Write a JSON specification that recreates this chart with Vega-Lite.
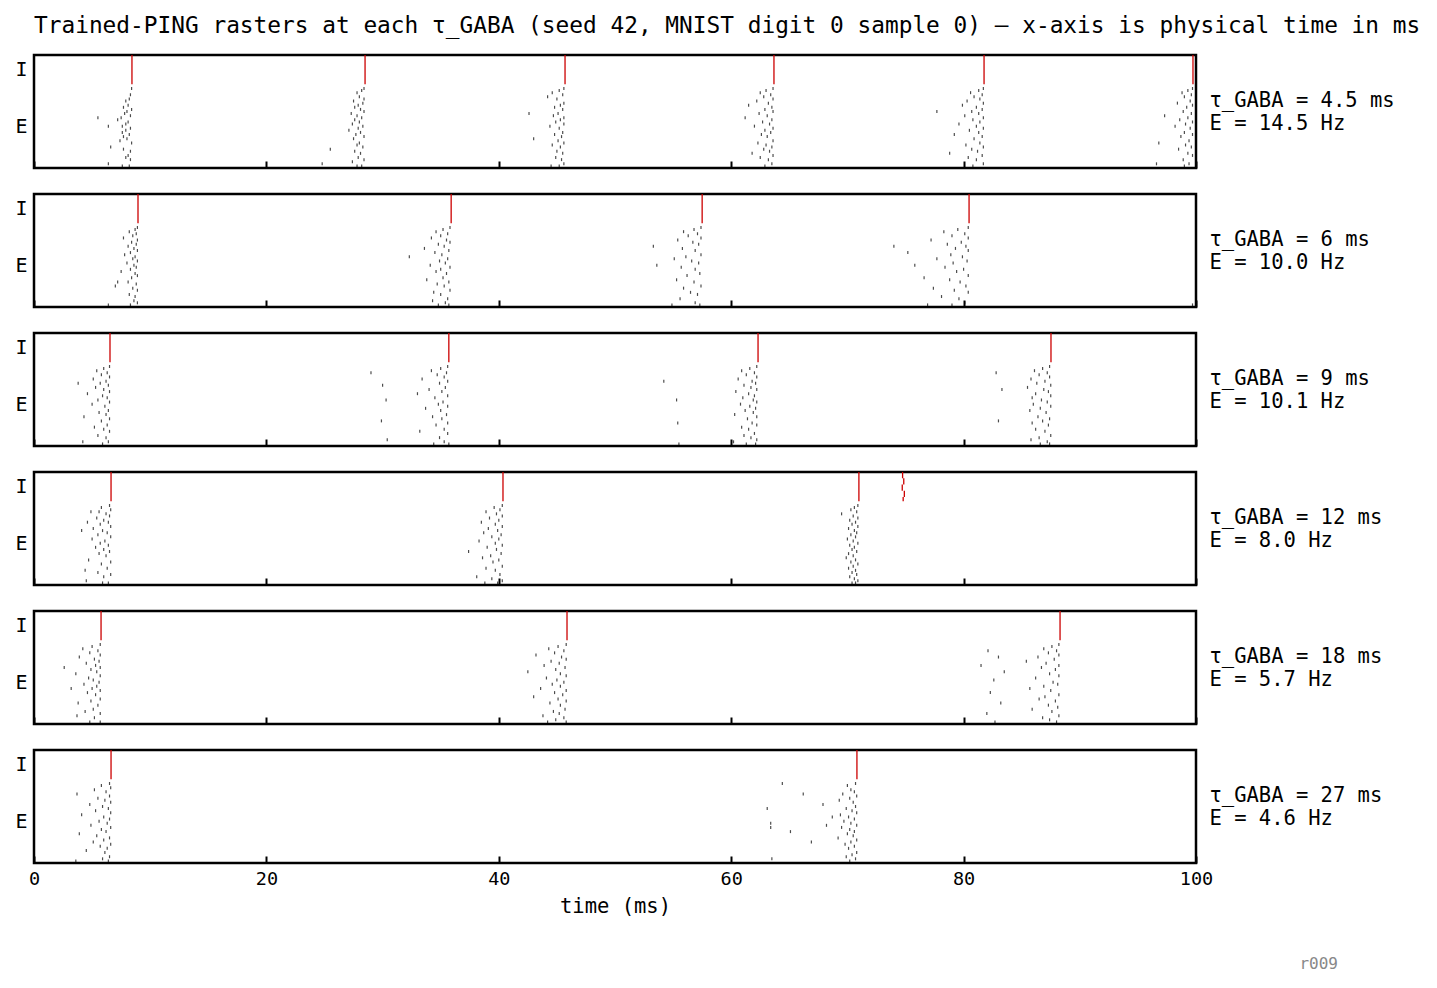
{
"$schema": "https://vega.github.io/schema/vega-lite/v6.json",
"padding": {"left": 13, "top": 15, "right": 5, "bottom": 5},
"config": {
  "font": "DejaVu Sans Mono",
  "view": {"stroke": "black", "strokeWidth": 2.5},
  "axis": {"grid": false, "domain": false, "labelColor": "black", "titleColor": "black", "tickColor": "black", "labelFont": "DejaVu Sans Mono", "titleFont": "DejaVu Sans Mono", "titleFontWeight": "normal"},
  "title": {"font": "DejaVu Sans Mono", "fontWeight": "normal", "color": "black"}
},
"title": {"text": "Trained-PING rasters at each τ_GABA (seed 42, MNIST digit 0 sample 0) — x-axis is physical time in ms", "anchor": "start", "frame": "group", "fontSize": 22.8, "offset": 15},
"spacing": 21,
"datasets": {"spikes": [
{"p":1,"t":8.43,"n":40,"n2":54},{"p":1,"t":28.49,"n":40,"n2":54},{"p":1,"t":45.7,"n":40,"n2":54},{"p":1,"t":63.68,"n":40,"n2":54},{"p":1,"t":81.76,"n":40,"n2":54},{"p":1,"t":99.74,"n":40,"n2":54},
{"p":2,"t":8.95,"n":40,"n2":54},{"p":2,"t":35.9,"n":40,"n2":54},{"p":2,"t":57.5,"n":40,"n2":54},{"p":2,"t":80.47,"n":40,"n2":54},
{"p":3,"t":6.54,"n":40,"n2":54},{"p":3,"t":35.7,"n":40,"n2":54},{"p":3,"t":62.31,"n":40,"n2":54},{"p":3,"t":87.52,"n":40,"n2":54},
{"p":4,"t":6.63,"n":40,"n2":54},{"p":4,"t":40.36,"n":40,"n2":54},{"p":4,"t":70.99,"n":40,"n2":54},
{"p":4,"t":74.75,"n":51,"n2":54},{"p":4,"t":74.85,"n":48,"n2":51},{"p":4,"t":74.72,"n":45,"n2":48},{"p":4,"t":74.9,"n":42,"n2":45},{"p":4,"t":74.8,"n":40,"n2":42},
{"p":5,"t":5.77,"n":40,"n2":54},{"p":5,"t":45.87,"n":40,"n2":54},{"p":5,"t":88.3,"n":40,"n2":54},
{"p":6,"t":6.63,"n":40,"n2":54},{"p":6,"t":70.82,"n":40,"n2":54},

{"p":1,"t":8.4,"n":38},{"p":1,"t":8.3,"n":35},{"p":1,"t":8.2,"n":33},{"p":1,"t":7.9,"n":32},{"p":1,"t":8.1,"n":30},{"p":1,"t":7.7,"n":29},{"p":1,"t":8.4,"n":28},{"p":1,"t":8.0,"n":27},{"p":1,"t":7.8,"n":26},{"p":1,"t":8.3,"n":25},{"p":1,"t":5.5,"n":24},{"p":1,"t":7.5,"n":24},{"p":1,"t":7.2,"n":23},{"p":1,"t":8.1,"n":22},{"p":1,"t":7.9,"n":21},{"p":1,"t":7.6,"n":20},{"p":1,"t":6.4,"n":20},{"p":1,"t":8.3,"n":19},{"p":1,"t":7.9,"n":18},{"p":1,"t":7.6,"n":17},{"p":1,"t":8.2,"n":16},{"p":1,"t":7.7,"n":15},{"p":1,"t":8.0,"n":14},{"p":1,"t":7.4,"n":13},{"p":1,"t":8.4,"n":12},{"p":1,"t":6.6,"n":10},{"p":1,"t":7.7,"n":9},{"p":1,"t":8.3,"n":8},{"p":1,"t":8.1,"n":6},{"p":1,"t":7.9,"n":5},{"p":1,"t":8.3,"n":4},{"p":1,"t":6.4,"n":2},{"p":1,"t":7.6,"n":1},{"p":1,"t":8.2,"n":1},
{"p":1,"t":28.4,"n":38},{"p":1,"t":28.2,"n":37},{"p":1,"t":27.8,"n":36},{"p":1,"t":28.0,"n":34},{"p":1,"t":28.4,"n":33},{"p":1,"t":27.5,"n":32},{"p":1,"t":28.3,"n":31},{"p":1,"t":27.9,"n":30},{"p":1,"t":27.6,"n":29},{"p":1,"t":28.1,"n":28},{"p":1,"t":28.4,"n":27},{"p":1,"t":27.3,"n":26},{"p":1,"t":27.8,"n":25},{"p":1,"t":28.2,"n":24},{"p":1,"t":27.6,"n":23},{"p":1,"t":28.0,"n":22},{"p":1,"t":27.4,"n":21},{"p":1,"t":28.3,"n":20},{"p":1,"t":27.9,"n":19},{"p":1,"t":27.1,"n":18},{"p":1,"t":28.1,"n":17},{"p":1,"t":27.7,"n":16},{"p":1,"t":28.4,"n":15},{"p":1,"t":27.5,"n":14},{"p":1,"t":28.0,"n":12},{"p":1,"t":27.8,"n":11},{"p":1,"t":28.3,"n":10},{"p":1,"t":25.5,"n":9},{"p":1,"t":27.6,"n":8},{"p":1,"t":28.1,"n":7},{"p":1,"t":27.9,"n":5},{"p":1,"t":28.4,"n":4},{"p":1,"t":24.8,"n":2},{"p":1,"t":27.4,"n":3},{"p":1,"t":28.2,"n":1},{"p":1,"t":27.8,"n":1},
{"p":1,"t":45.6,"n":38},{"p":1,"t":45.2,"n":37},{"p":1,"t":44.6,"n":36},{"p":1,"t":45.5,"n":35},{"p":1,"t":44.2,"n":34},{"p":1,"t":45.0,"n":33},{"p":1,"t":45.6,"n":31},{"p":1,"t":45.3,"n":30},{"p":1,"t":44.8,"n":29},{"p":1,"t":45.5,"n":28},{"p":1,"t":42.6,"n":26},{"p":1,"t":45.1,"n":26},{"p":1,"t":44.7,"n":25},{"p":1,"t":45.6,"n":24},{"p":1,"t":45.3,"n":23},{"p":1,"t":44.9,"n":22},{"p":1,"t":45.6,"n":21},{"p":1,"t":44.4,"n":20},{"p":1,"t":45.2,"n":19},{"p":1,"t":45.5,"n":17},{"p":1,"t":44.8,"n":16},{"p":1,"t":45.4,"n":15},{"p":1,"t":43.0,"n":14},{"p":1,"t":45.1,"n":13},{"p":1,"t":45.6,"n":12},{"p":1,"t":44.6,"n":11},{"p":1,"t":45.3,"n":10},{"p":1,"t":45.0,"n":8},{"p":1,"t":45.5,"n":7},{"p":1,"t":44.9,"n":5},{"p":1,"t":45.4,"n":4},{"p":1,"t":45.6,"n":2},{"p":1,"t":44.5,"n":1},{"p":1,"t":45.2,"n":1},
{"p":1,"t":63.6,"n":38},{"p":1,"t":63.0,"n":37},{"p":1,"t":62.5,"n":36},{"p":1,"t":63.4,"n":35},{"p":1,"t":62.8,"n":34},{"p":1,"t":63.6,"n":33},{"p":1,"t":62.2,"n":32},{"p":1,"t":63.2,"n":31},{"p":1,"t":61.5,"n":30},{"p":1,"t":63.5,"n":29},{"p":1,"t":62.9,"n":28},{"p":1,"t":63.6,"n":27},{"p":1,"t":62.4,"n":26},{"p":1,"t":63.1,"n":25},{"p":1,"t":61.2,"n":24},{"p":1,"t":63.5,"n":23},{"p":1,"t":62.7,"n":22},{"p":1,"t":63.3,"n":21},{"p":1,"t":62.0,"n":20},{"p":1,"t":63.6,"n":19},{"p":1,"t":62.9,"n":18},{"p":1,"t":63.4,"n":17},{"p":1,"t":62.6,"n":16},{"p":1,"t":63.1,"n":15},{"p":1,"t":63.6,"n":13},{"p":1,"t":62.3,"n":12},{"p":1,"t":63.0,"n":11},{"p":1,"t":63.5,"n":10},{"p":1,"t":62.8,"n":9},{"p":1,"t":63.3,"n":8},{"p":1,"t":61.8,"n":7},{"p":1,"t":63.6,"n":6},{"p":1,"t":62.5,"n":5},{"p":1,"t":63.2,"n":4},{"p":1,"t":63.5,"n":2},{"p":1,"t":62.9,"n":1},
{"p":1,"t":81.7,"n":38},{"p":1,"t":81.3,"n":37},{"p":1,"t":80.6,"n":36},{"p":1,"t":81.6,"n":35},{"p":1,"t":80.9,"n":34},{"p":1,"t":81.4,"n":33},{"p":1,"t":80.3,"n":32},{"p":1,"t":81.7,"n":31},{"p":1,"t":79.9,"n":30},{"p":1,"t":81.1,"n":29},{"p":1,"t":81.6,"n":28},{"p":1,"t":77.7,"n":27},{"p":1,"t":80.7,"n":27},{"p":1,"t":81.3,"n":26},{"p":1,"t":80.1,"n":25},{"p":1,"t":81.7,"n":24},{"p":1,"t":80.8,"n":23},{"p":1,"t":81.4,"n":22},{"p":1,"t":79.6,"n":21},{"p":1,"t":81.1,"n":20},{"p":1,"t":81.7,"n":19},{"p":1,"t":80.5,"n":18},{"p":1,"t":81.3,"n":17},{"p":1,"t":79.2,"n":16},{"p":1,"t":81.6,"n":15},{"p":1,"t":80.9,"n":14},{"p":1,"t":81.4,"n":12},{"p":1,"t":80.2,"n":11},{"p":1,"t":81.7,"n":10},{"p":1,"t":80.7,"n":9},{"p":1,"t":81.2,"n":8},{"p":1,"t":78.8,"n":7},{"p":1,"t":81.6,"n":6},{"p":1,"t":80.4,"n":5},{"p":1,"t":81.1,"n":4},{"p":1,"t":81.7,"n":2},{"p":1,"t":80.8,"n":1},
{"p":1,"t":99.7,"n":38},{"p":1,"t":99.3,"n":37},{"p":1,"t":98.8,"n":36},{"p":1,"t":99.6,"n":35},{"p":1,"t":99.0,"n":34},{"p":1,"t":99.5,"n":32},{"p":1,"t":98.4,"n":31},{"p":1,"t":99.7,"n":30},{"p":1,"t":99.2,"n":29},{"p":1,"t":98.9,"n":27},{"p":1,"t":99.6,"n":26},{"p":1,"t":97.3,"n":25},{"p":1,"t":99.3,"n":24},{"p":1,"t":98.6,"n":23},{"p":1,"t":99.7,"n":22},{"p":1,"t":99.1,"n":21},{"p":1,"t":98.2,"n":20},{"p":1,"t":99.5,"n":19},{"p":1,"t":99.0,"n":17},{"p":1,"t":99.7,"n":16},{"p":1,"t":98.7,"n":15},{"p":1,"t":99.4,"n":13},{"p":1,"t":96.8,"n":12},{"p":1,"t":99.1,"n":11},{"p":1,"t":99.6,"n":10},{"p":1,"t":98.5,"n":9},{"p":1,"t":99.3,"n":7},{"p":1,"t":99.7,"n":6},{"p":1,"t":98.9,"n":4},{"p":1,"t":96.6,"n":2},{"p":1,"t":99.4,"n":2},{"p":1,"t":99.0,"n":1},

{"p":2,"t":8.9,"n":38},{"p":2,"t":8.7,"n":37},{"p":2,"t":8.2,"n":36},{"p":2,"t":8.8,"n":35},{"p":2,"t":8.5,"n":34},{"p":2,"t":7.7,"n":33},{"p":2,"t":8.9,"n":32},{"p":2,"t":8.4,"n":31},{"p":2,"t":8.8,"n":30},{"p":2,"t":8.1,"n":29},{"p":2,"t":8.6,"n":28},{"p":2,"t":8.9,"n":27},{"p":2,"t":8.3,"n":26},{"p":2,"t":7.8,"n":25},{"p":2,"t":8.7,"n":24},{"p":2,"t":8.5,"n":23},{"p":2,"t":8.9,"n":22},{"p":2,"t":8.0,"n":21},{"p":2,"t":8.6,"n":20},{"p":2,"t":8.8,"n":19},{"p":2,"t":8.3,"n":18},{"p":2,"t":7.5,"n":17},{"p":2,"t":8.7,"n":16},{"p":2,"t":8.9,"n":15},{"p":2,"t":8.4,"n":14},{"p":2,"t":7.2,"n":12},{"p":2,"t":8.1,"n":12},{"p":2,"t":8.8,"n":11},{"p":2,"t":7.0,"n":10},{"p":2,"t":8.5,"n":9},{"p":2,"t":8.9,"n":8},{"p":2,"t":8.2,"n":6},{"p":2,"t":8.7,"n":5},{"p":2,"t":8.6,"n":3},{"p":2,"t":6.4,"n":1},{"p":2,"t":8.3,"n":1},{"p":2,"t":8.9,"n":2},
{"p":2,"t":35.8,"n":38},{"p":2,"t":35.2,"n":37},{"p":2,"t":34.6,"n":36},{"p":2,"t":35.6,"n":35},{"p":2,"t":35.0,"n":34},{"p":2,"t":34.2,"n":33},{"p":2,"t":35.5,"n":32},{"p":2,"t":35.8,"n":31},{"p":2,"t":34.8,"n":30},{"p":2,"t":35.3,"n":29},{"p":2,"t":33.6,"n":28},{"p":2,"t":35.7,"n":27},{"p":2,"t":34.5,"n":26},{"p":2,"t":35.1,"n":25},{"p":2,"t":32.3,"n":24},{"p":2,"t":35.6,"n":23},{"p":2,"t":34.9,"n":22},{"p":2,"t":35.4,"n":21},{"p":2,"t":34.1,"n":20},{"p":2,"t":35.8,"n":19},{"p":2,"t":35.0,"n":18},{"p":2,"t":34.6,"n":17},{"p":2,"t":35.5,"n":16},{"p":2,"t":35.2,"n":14},{"p":2,"t":33.8,"n":13},{"p":2,"t":35.7,"n":12},{"p":2,"t":34.7,"n":11},{"p":2,"t":35.3,"n":10},{"p":2,"t":35.8,"n":8},{"p":2,"t":34.4,"n":7},{"p":2,"t":35.0,"n":6},{"p":2,"t":35.6,"n":4},{"p":2,"t":34.3,"n":3},{"p":2,"t":35.4,"n":2},{"p":2,"t":34.8,"n":1},{"p":2,"t":35.7,"n":1},
{"p":2,"t":57.4,"n":38},{"p":2,"t":56.8,"n":37},{"p":2,"t":55.9,"n":36},{"p":2,"t":57.1,"n":35},{"p":2,"t":56.3,"n":34},{"p":2,"t":57.4,"n":33},{"p":2,"t":55.4,"n":32},{"p":2,"t":56.7,"n":31},{"p":2,"t":57.2,"n":30},{"p":2,"t":53.3,"n":29},{"p":2,"t":55.8,"n":28},{"p":2,"t":56.9,"n":27},{"p":2,"t":57.4,"n":25},{"p":2,"t":56.1,"n":24},{"p":2,"t":55.1,"n":23},{"p":2,"t":56.6,"n":22},{"p":2,"t":57.2,"n":21},{"p":2,"t":53.6,"n":20},{"p":2,"t":55.7,"n":19},{"p":2,"t":56.9,"n":18},{"p":2,"t":57.3,"n":16},{"p":2,"t":56.2,"n":15},{"p":2,"t":55.3,"n":13},{"p":2,"t":56.8,"n":12},{"p":2,"t":57.4,"n":10},{"p":2,"t":55.9,"n":9},{"p":2,"t":56.5,"n":7},{"p":2,"t":57.1,"n":6},{"p":2,"t":55.6,"n":4},{"p":2,"t":56.9,"n":2},{"p":2,"t":54.9,"n":1},{"p":2,"t":57.3,"n":1},
{"p":2,"t":80.4,"n":38},{"p":2,"t":79.5,"n":37},{"p":2,"t":78.3,"n":36},{"p":2,"t":80.1,"n":35},{"p":2,"t":79.0,"n":34},{"p":2,"t":80.4,"n":33},{"p":2,"t":77.2,"n":32},{"p":2,"t":79.8,"n":31},{"p":2,"t":78.6,"n":30},{"p":2,"t":80.2,"n":29},{"p":2,"t":74.0,"n":29},{"p":2,"t":79.3,"n":28},{"p":2,"t":80.4,"n":27},{"p":2,"t":75.2,"n":26},{"p":2,"t":78.9,"n":25},{"p":2,"t":79.9,"n":24},{"p":2,"t":77.7,"n":23},{"p":2,"t":80.3,"n":22},{"p":2,"t":79.1,"n":21},{"p":2,"t":75.8,"n":20},{"p":2,"t":78.4,"n":19},{"p":2,"t":80.0,"n":18},{"p":2,"t":79.4,"n":17},{"p":2,"t":80.4,"n":15},{"p":2,"t":76.6,"n":14},{"p":2,"t":78.8,"n":13},{"p":2,"t":79.7,"n":12},{"p":2,"t":80.2,"n":10},{"p":2,"t":77.4,"n":9},{"p":2,"t":79.2,"n":8},{"p":2,"t":80.4,"n":7},{"p":2,"t":78.1,"n":5},{"p":2,"t":79.6,"n":4},{"p":2,"t":80.1,"n":2},{"p":2,"t":76.9,"n":1},{"p":2,"t":79.0,"n":1},{"p":2,"t":99.7,"n":1},

{"p":3,"t":6.5,"n":38},{"p":3,"t":6.0,"n":37},{"p":3,"t":5.4,"n":36},{"p":3,"t":6.3,"n":35},{"p":3,"t":5.8,"n":34},{"p":3,"t":6.5,"n":33},{"p":3,"t":5.1,"n":32},{"p":3,"t":6.2,"n":31},{"p":3,"t":3.8,"n":30},{"p":3,"t":5.7,"n":30},{"p":3,"t":6.4,"n":29},{"p":3,"t":5.3,"n":28},{"p":3,"t":6.0,"n":27},{"p":3,"t":6.5,"n":26},{"p":3,"t":4.6,"n":25},{"p":3,"t":5.9,"n":24},{"p":3,"t":6.3,"n":23},{"p":3,"t":5.5,"n":22},{"p":3,"t":6.5,"n":21},{"p":3,"t":5.0,"n":20},{"p":3,"t":6.1,"n":19},{"p":3,"t":6.4,"n":17},{"p":3,"t":5.6,"n":16},{"p":3,"t":6.2,"n":15},{"p":3,"t":4.3,"n":14},{"p":3,"t":6.5,"n":13},{"p":3,"t":5.8,"n":12},{"p":3,"t":6.3,"n":10},{"p":3,"t":5.2,"n":9},{"p":3,"t":6.0,"n":8},{"p":3,"t":6.5,"n":7},{"p":3,"t":5.5,"n":5},{"p":3,"t":6.2,"n":4},{"p":3,"t":4.2,"n":2},{"p":3,"t":6.4,"n":2},{"p":3,"t":5.9,"n":1},
{"p":3,"t":35.6,"n":38},{"p":3,"t":35.0,"n":37},{"p":3,"t":34.2,"n":36},{"p":3,"t":35.5,"n":35},{"p":3,"t":29.0,"n":35},{"p":3,"t":34.7,"n":34},{"p":3,"t":35.3,"n":33},{"p":3,"t":33.4,"n":32},{"p":3,"t":35.6,"n":31},{"p":3,"t":34.9,"n":30},{"p":3,"t":30.0,"n":29},{"p":3,"t":35.4,"n":28},{"p":3,"t":34.0,"n":27},{"p":3,"t":35.1,"n":26},{"p":3,"t":33.0,"n":25},{"p":3,"t":35.6,"n":24},{"p":3,"t":34.5,"n":23},{"p":3,"t":30.3,"n":22},{"p":3,"t":35.2,"n":21},{"p":3,"t":34.8,"n":20},{"p":3,"t":35.6,"n":19},{"p":3,"t":33.7,"n":18},{"p":3,"t":35.0,"n":17},{"p":3,"t":35.5,"n":15},{"p":3,"t":34.3,"n":14},{"p":3,"t":35.1,"n":13},{"p":3,"t":29.9,"n":12},{"p":3,"t":35.6,"n":11},{"p":3,"t":34.6,"n":10},{"p":3,"t":35.3,"n":8},{"p":3,"t":33.2,"n":7},{"p":3,"t":35.6,"n":6},{"p":3,"t":34.9,"n":4},{"p":3,"t":30.4,"n":3},{"p":3,"t":35.3,"n":2},{"p":3,"t":34.4,"n":1},{"p":3,"t":35.7,"n":1},
{"p":3,"t":62.2,"n":38},{"p":3,"t":61.6,"n":37},{"p":3,"t":60.9,"n":36},{"p":3,"t":62.0,"n":35},{"p":3,"t":61.3,"n":34},{"p":3,"t":62.2,"n":33},{"p":3,"t":60.6,"n":32},{"p":3,"t":61.8,"n":31},{"p":3,"t":54.2,"n":31},{"p":3,"t":62.1,"n":30},{"p":3,"t":61.1,"n":29},{"p":3,"t":61.7,"n":28},{"p":3,"t":62.2,"n":27},{"p":3,"t":60.4,"n":26},{"p":3,"t":61.5,"n":25},{"p":3,"t":62.0,"n":24},{"p":3,"t":61.0,"n":23},{"p":3,"t":61.9,"n":22},{"p":3,"t":55.3,"n":22},{"p":3,"t":62.2,"n":21},{"p":3,"t":60.8,"n":20},{"p":3,"t":61.6,"n":19},{"p":3,"t":62.1,"n":18},{"p":3,"t":61.2,"n":17},{"p":3,"t":61.9,"n":16},{"p":3,"t":60.3,"n":15},{"p":3,"t":62.2,"n":14},{"p":3,"t":61.4,"n":13},{"p":3,"t":55.4,"n":11},{"p":3,"t":61.8,"n":11},{"p":3,"t":62.2,"n":10},{"p":3,"t":60.9,"n":9},{"p":3,"t":61.5,"n":8},{"p":3,"t":62.0,"n":6},{"p":3,"t":61.1,"n":5},{"p":3,"t":61.7,"n":4},{"p":3,"t":62.2,"n":3},{"p":3,"t":60.2,"n":2},{"p":3,"t":61.3,"n":1},{"p":3,"t":55.5,"n":1},{"p":3,"t":62.1,"n":1},
{"p":3,"t":87.4,"n":38},{"p":3,"t":86.8,"n":37},{"p":3,"t":86.1,"n":36},{"p":3,"t":87.2,"n":35},{"p":3,"t":82.8,"n":35},{"p":3,"t":86.5,"n":34},{"p":3,"t":87.4,"n":33},{"p":3,"t":85.8,"n":32},{"p":3,"t":87.0,"n":31},{"p":3,"t":86.3,"n":30},{"p":3,"t":87.5,"n":29},{"p":3,"t":85.5,"n":28},{"p":3,"t":86.9,"n":27},{"p":3,"t":83.3,"n":27},{"p":3,"t":87.3,"n":26},{"p":3,"t":86.2,"n":25},{"p":3,"t":87.5,"n":24},{"p":3,"t":85.9,"n":23},{"p":3,"t":86.7,"n":22},{"p":3,"t":87.2,"n":21},{"p":3,"t":86.0,"n":20},{"p":3,"t":87.5,"n":19},{"p":3,"t":86.6,"n":18},{"p":3,"t":85.7,"n":17},{"p":3,"t":87.1,"n":16},{"p":3,"t":86.4,"n":14},{"p":3,"t":87.4,"n":13},{"p":3,"t":83.0,"n":12},{"p":3,"t":86.8,"n":12},{"p":3,"t":85.9,"n":11},{"p":3,"t":87.3,"n":10},{"p":3,"t":86.2,"n":8},{"p":3,"t":87.0,"n":7},{"p":3,"t":87.5,"n":5},{"p":3,"t":86.5,"n":4},{"p":3,"t":85.8,"n":3},{"p":3,"t":87.2,"n":2},{"p":3,"t":86.6,"n":1},{"p":3,"t":87.4,"n":1},

{"p":4,"t":6.5,"n":38},{"p":4,"t":5.8,"n":37},{"p":4,"t":6.6,"n":36},{"p":4,"t":4.9,"n":35},{"p":4,"t":5.6,"n":35},{"p":4,"t":6.2,"n":34},{"p":4,"t":6.5,"n":33},{"p":4,"t":5.4,"n":32},{"p":4,"t":6.0,"n":31},{"p":4,"t":4.6,"n":30},{"p":4,"t":6.4,"n":30},{"p":4,"t":5.7,"n":29},{"p":4,"t":6.6,"n":28},{"p":4,"t":5.1,"n":27},{"p":4,"t":4.1,"n":26},{"p":4,"t":5.9,"n":26},{"p":4,"t":6.3,"n":25},{"p":4,"t":5.5,"n":24},{"p":4,"t":6.6,"n":23},{"p":4,"t":5.0,"n":22},{"p":4,"t":6.1,"n":21},{"p":4,"t":5.7,"n":20},{"p":4,"t":6.4,"n":19},{"p":4,"t":5.3,"n":18},{"p":4,"t":6.0,"n":17},{"p":4,"t":6.5,"n":16},{"p":4,"t":5.6,"n":15},{"p":4,"t":6.2,"n":14},{"p":4,"t":4.7,"n":12},{"p":4,"t":6.6,"n":11},{"p":4,"t":5.8,"n":10},{"p":4,"t":6.3,"n":8},{"p":4,"t":4.4,"n":7},{"p":4,"t":5.5,"n":6},{"p":4,"t":6.6,"n":5},{"p":4,"t":6.0,"n":4},{"p":4,"t":4.5,"n":2},{"p":4,"t":5.9,"n":1},{"p":4,"t":6.4,"n":1},
{"p":4,"t":40.3,"n":38},{"p":4,"t":39.6,"n":37},{"p":4,"t":40.1,"n":36},{"p":4,"t":38.9,"n":35},{"p":4,"t":39.8,"n":34},{"p":4,"t":40.3,"n":33},{"p":4,"t":39.2,"n":32},{"p":4,"t":40.0,"n":31},{"p":4,"t":38.5,"n":30},{"p":4,"t":39.7,"n":29},{"p":4,"t":40.3,"n":28},{"p":4,"t":39.1,"n":27},{"p":4,"t":39.9,"n":26},{"p":4,"t":38.7,"n":25},{"p":4,"t":40.2,"n":24},{"p":4,"t":39.4,"n":23},{"p":4,"t":40.0,"n":22},{"p":4,"t":38.3,"n":21},{"p":4,"t":39.7,"n":20},{"p":4,"t":40.3,"n":19},{"p":4,"t":39.0,"n":18},{"p":4,"t":39.8,"n":17},{"p":4,"t":37.4,"n":16},{"p":4,"t":40.2,"n":15},{"p":4,"t":39.3,"n":14},{"p":4,"t":38.6,"n":13},{"p":4,"t":40.0,"n":12},{"p":4,"t":39.5,"n":11},{"p":4,"t":40.3,"n":9},{"p":4,"t":38.9,"n":8},{"p":4,"t":39.7,"n":7},{"p":4,"t":40.1,"n":5},{"p":4,"t":38.1,"n":4},{"p":4,"t":39.4,"n":3},{"p":4,"t":40.3,"n":2},{"p":4,"t":38.8,"n":1},{"p":4,"t":39.9,"n":1},
{"p":4,"t":70.9,"n":38},{"p":4,"t":70.6,"n":37},{"p":4,"t":70.3,"n":36},{"p":4,"t":70.8,"n":35},{"p":4,"t":69.5,"n":34},{"p":4,"t":70.5,"n":33},{"p":4,"t":70.9,"n":32},{"p":4,"t":70.2,"n":31},{"p":4,"t":70.7,"n":30},{"p":4,"t":70.4,"n":29},{"p":4,"t":70.9,"n":28},{"p":4,"t":70.1,"n":27},{"p":4,"t":70.6,"n":26},{"p":4,"t":70.8,"n":25},{"p":4,"t":70.3,"n":24},{"p":4,"t":70.7,"n":23},{"p":4,"t":70.0,"n":22},{"p":4,"t":70.5,"n":21},{"p":4,"t":70.9,"n":20},{"p":4,"t":70.2,"n":19},{"p":4,"t":70.6,"n":18},{"p":4,"t":70.4,"n":17},{"p":4,"t":70.8,"n":16},{"p":4,"t":70.1,"n":15},{"p":4,"t":70.5,"n":14},{"p":4,"t":69.9,"n":13},{"p":4,"t":70.7,"n":12},{"p":4,"t":70.3,"n":11},{"p":4,"t":70.9,"n":10},{"p":4,"t":70.5,"n":9},{"p":4,"t":70.1,"n":8},{"p":4,"t":70.7,"n":7},{"p":4,"t":70.4,"n":6},{"p":4,"t":70.8,"n":5},{"p":4,"t":70.2,"n":4},{"p":4,"t":70.6,"n":3},{"p":4,"t":70.9,"n":2},{"p":4,"t":70.4,"n":1},{"p":4,"t":70.7,"n":1},

{"p":5,"t":5.7,"n":38},{"p":5,"t":5.0,"n":37},{"p":5,"t":4.2,"n":36},{"p":5,"t":5.5,"n":35},{"p":5,"t":4.8,"n":34},{"p":5,"t":5.7,"n":33},{"p":5,"t":3.9,"n":32},{"p":5,"t":5.2,"n":31},{"p":5,"t":5.6,"n":30},{"p":5,"t":4.5,"n":29},{"p":5,"t":5.3,"n":28},{"p":5,"t":2.6,"n":27},{"p":5,"t":5.7,"n":27},{"p":5,"t":4.9,"n":26},{"p":5,"t":5.4,"n":25},{"p":5,"t":3.6,"n":24},{"p":5,"t":5.7,"n":23},{"p":5,"t":4.7,"n":22},{"p":5,"t":5.1,"n":21},{"p":5,"t":5.6,"n":20},{"p":5,"t":4.3,"n":19},{"p":5,"t":5.4,"n":18},{"p":5,"t":3.2,"n":17},{"p":5,"t":5.0,"n":17},{"p":5,"t":5.7,"n":16},{"p":5,"t":4.6,"n":15},{"p":5,"t":5.3,"n":14},{"p":5,"t":5.7,"n":12},{"p":5,"t":4.9,"n":11},{"p":5,"t":3.8,"n":10},{"p":5,"t":5.5,"n":9},{"p":5,"t":5.1,"n":7},{"p":5,"t":4.4,"n":6},{"p":5,"t":5.7,"n":5},{"p":5,"t":3.7,"n":4},{"p":5,"t":5.2,"n":3},{"p":5,"t":5.7,"n":1},{"p":5,"t":4.8,"n":1},
{"p":5,"t":45.8,"n":38},{"p":5,"t":45.1,"n":37},{"p":5,"t":44.3,"n":36},{"p":5,"t":45.6,"n":35},{"p":5,"t":44.8,"n":34},{"p":5,"t":43.2,"n":33},{"p":5,"t":45.4,"n":32},{"p":5,"t":45.8,"n":31},{"p":5,"t":44.5,"n":30},{"p":5,"t":45.2,"n":29},{"p":5,"t":43.9,"n":28},{"p":5,"t":45.7,"n":27},{"p":5,"t":44.9,"n":26},{"p":5,"t":42.5,"n":25},{"p":5,"t":45.3,"n":24},{"p":5,"t":45.8,"n":23},{"p":5,"t":44.1,"n":22},{"p":5,"t":45.0,"n":21},{"p":5,"t":45.6,"n":20},{"p":5,"t":44.6,"n":19},{"p":5,"t":45.3,"n":18},{"p":5,"t":43.6,"n":17},{"p":5,"t":45.8,"n":16},{"p":5,"t":44.8,"n":15},{"p":5,"t":45.5,"n":14},{"p":5,"t":43.0,"n":13},{"p":5,"t":45.1,"n":12},{"p":5,"t":45.8,"n":11},{"p":5,"t":44.4,"n":10},{"p":5,"t":45.3,"n":9},{"p":5,"t":45.7,"n":7},{"p":5,"t":44.7,"n":6},{"p":5,"t":45.2,"n":5},{"p":5,"t":43.8,"n":4},{"p":5,"t":45.6,"n":3},{"p":5,"t":44.9,"n":2},{"p":5,"t":45.8,"n":1},{"p":5,"t":44.2,"n":1},
{"p":5,"t":88.2,"n":38},{"p":5,"t":87.6,"n":37},{"p":5,"t":86.9,"n":36},{"p":5,"t":88.0,"n":35},{"p":5,"t":82.1,"n":35},{"p":5,"t":87.3,"n":34},{"p":5,"t":88.2,"n":33},{"p":5,"t":86.4,"n":32},{"p":5,"t":83.0,"n":32},{"p":5,"t":87.8,"n":31},{"p":5,"t":85.4,"n":30},{"p":5,"t":87.1,"n":29},{"p":5,"t":88.2,"n":28},{"p":5,"t":81.5,"n":28},{"p":5,"t":86.7,"n":27},{"p":5,"t":87.9,"n":26},{"p":5,"t":83.5,"n":25},{"p":5,"t":87.4,"n":24},{"p":5,"t":88.2,"n":23},{"p":5,"t":86.2,"n":22},{"p":5,"t":82.6,"n":21},{"p":5,"t":87.7,"n":20},{"p":5,"t":88.1,"n":19},{"p":5,"t":86.9,"n":18},{"p":5,"t":85.7,"n":17},{"p":5,"t":87.5,"n":16},{"p":5,"t":82.3,"n":15},{"p":5,"t":88.2,"n":14},{"p":5,"t":87.0,"n":13},{"p":5,"t":86.5,"n":12},{"p":5,"t":87.9,"n":11},{"p":5,"t":83.2,"n":10},{"p":5,"t":87.3,"n":9},{"p":5,"t":88.1,"n":8},{"p":5,"t":85.9,"n":7},{"p":5,"t":87.6,"n":6},{"p":5,"t":82.0,"n":5},{"p":5,"t":88.2,"n":4},{"p":5,"t":86.8,"n":3},{"p":5,"t":87.4,"n":2},{"p":5,"t":82.7,"n":1},{"p":5,"t":88.0,"n":1},

{"p":6,"t":6.5,"n":38},{"p":6,"t":5.8,"n":37},{"p":6,"t":6.6,"n":36},{"p":6,"t":5.2,"n":35},{"p":6,"t":6.2,"n":34},{"p":6,"t":3.7,"n":33},{"p":6,"t":6.5,"n":32},{"p":6,"t":5.5,"n":31},{"p":6,"t":6.1,"n":30},{"p":6,"t":6.6,"n":29},{"p":6,"t":4.8,"n":28},{"p":6,"t":5.9,"n":27},{"p":6,"t":6.4,"n":26},{"p":6,"t":5.3,"n":25},{"p":6,"t":6.6,"n":24},{"p":6,"t":4.1,"n":23},{"p":6,"t":6.0,"n":22},{"p":6,"t":6.5,"n":21},{"p":6,"t":5.6,"n":20},{"p":6,"t":6.3,"n":19},{"p":6,"t":4.9,"n":18},{"p":6,"t":6.6,"n":17},{"p":6,"t":5.8,"n":16},{"p":6,"t":6.2,"n":15},{"p":6,"t":3.9,"n":14},{"p":6,"t":5.4,"n":13},{"p":6,"t":6.5,"n":12},{"p":6,"t":6.0,"n":11},{"p":6,"t":5.1,"n":10},{"p":6,"t":6.6,"n":9},{"p":6,"t":5.7,"n":8},{"p":6,"t":6.3,"n":7},{"p":6,"t":4.5,"n":6},{"p":6,"t":6.1,"n":5},{"p":6,"t":6.5,"n":3},{"p":6,"t":5.9,"n":2},{"p":6,"t":3.6,"n":1},{"p":6,"t":6.4,"n":1},
{"p":6,"t":64.4,"n":38},{"p":6,"t":66.2,"n":33},{"p":6,"t":67.9,"n":28},{"p":6,"t":63.1,"n":26},{"p":6,"t":63.4,"n":19},{"p":6,"t":63.4,"n":17},{"p":6,"t":65.1,"n":15},{"p":6,"t":68.2,"n":18},{"p":6,"t":66.9,"n":10},{"p":6,"t":63.5,"n":2},{"p":6,"t":68.7,"n":22},
{"p":6,"t":70.7,"n":38},{"p":6,"t":70.0,"n":37},{"p":6,"t":70.3,"n":35},{"p":6,"t":70.6,"n":34},{"p":6,"t":69.6,"n":33},{"p":6,"t":70.8,"n":32},{"p":6,"t":70.2,"n":31},{"p":6,"t":69.3,"n":30},{"p":6,"t":70.5,"n":29},{"p":6,"t":70.7,"n":27},{"p":6,"t":69.9,"n":26},{"p":6,"t":70.4,"n":25},{"p":6,"t":70.8,"n":24},{"p":6,"t":69.4,"n":23},{"p":6,"t":70.1,"n":22},{"p":6,"t":70.6,"n":21},{"p":6,"t":69.7,"n":20},{"p":6,"t":70.3,"n":19},{"p":6,"t":70.8,"n":18},{"p":6,"t":69.5,"n":17},{"p":6,"t":70.2,"n":16},{"p":6,"t":70.6,"n":15},{"p":6,"t":70.0,"n":14},{"p":6,"t":70.5,"n":13},{"p":6,"t":69.2,"n":12},{"p":6,"t":70.8,"n":11},{"p":6,"t":70.3,"n":10},{"p":6,"t":69.8,"n":9},{"p":6,"t":70.6,"n":8},{"p":6,"t":70.1,"n":7},{"p":6,"t":70.8,"n":5},{"p":6,"t":70.4,"n":4},{"p":6,"t":69.9,"n":3},{"p":6,"t":70.7,"n":2},{"p":6,"t":70.2,"n":1}
]},
"vconcat": [
{"data": {"name": "spikes"}, "transform": [{"filter": "datum.p == 1"}], "width": 1162, "height": 113, "resolve": {"axis": {"y": "independent"}},
 "layer": [
  {"transform": [{"filter": "!isValid(datum.n2)"}], "mark": {"type": "tick", "orient": "vertical", "size": 3, "thickness": 1.2, "color": "black"},
   "encoding": {"x": {"field": "t", "type": "quantitative", "scale": {"domain": [0, 100], "nice": false}, "axis": {"labels": false, "title": null, "tickSize": -7, "tickWidth": 2, "values": [0, 20, 40, 60, 80, 100]}},
    "y": {"field": "n", "type": "quantitative", "scale": {"domain": [0, 54], "nice": false}, "axis": {"values": [20, 47], "labelExpr": "datum.value < 40 ? 'E' : 'I'", "ticks": false, "title": null, "labelFontSize": 20, "labelPadding": 7}}}},
  {"transform": [{"filter": "isValid(datum.n2)"}], "mark": {"type": "rule", "color": "#cc0000", "strokeWidth": 1.3},
   "encoding": {"x": {"field": "t", "type": "quantitative"}, "y": {"field": "n", "type": "quantitative", "axis": {"orient": "right", "values": [27], "labelExpr": "['τ_GABA = 4.5 ms', 'E = 14.5 Hz']", "ticks": false, "title": null, "labelFontSize": 20.5, "labelLineHeight": 23, "labelAlign": "left", "labelBaseline": "middle", "labelOffset": -11.5, "labelPadding": 13, "labelLimit": 0, "labelOverlap": false, "labelBound": false}}, "y2": {"field": "n2"}}}
 ]},
{"data": {"name": "spikes"}, "transform": [{"filter": "datum.p == 2"}], "width": 1162, "height": 113, "resolve": {"axis": {"y": "independent"}},
 "layer": [
  {"transform": [{"filter": "!isValid(datum.n2)"}], "mark": {"type": "tick", "orient": "vertical", "size": 3, "thickness": 1.2, "color": "black"},
   "encoding": {"x": {"field": "t", "type": "quantitative", "scale": {"domain": [0, 100], "nice": false}, "axis": {"labels": false, "title": null, "tickSize": -7, "tickWidth": 2, "values": [0, 20, 40, 60, 80, 100]}},
    "y": {"field": "n", "type": "quantitative", "scale": {"domain": [0, 54], "nice": false}, "axis": {"values": [20, 47], "labelExpr": "datum.value < 40 ? 'E' : 'I'", "ticks": false, "title": null, "labelFontSize": 20, "labelPadding": 7}}}},
  {"transform": [{"filter": "isValid(datum.n2)"}], "mark": {"type": "rule", "color": "#cc0000", "strokeWidth": 1.3},
   "encoding": {"x": {"field": "t", "type": "quantitative"}, "y": {"field": "n", "type": "quantitative", "axis": {"orient": "right", "values": [27], "labelExpr": "['τ_GABA = 6 ms', 'E = 10.0 Hz']", "ticks": false, "title": null, "labelFontSize": 20.5, "labelLineHeight": 23, "labelAlign": "left", "labelBaseline": "middle", "labelOffset": -11.5, "labelPadding": 13, "labelLimit": 0, "labelOverlap": false, "labelBound": false}}, "y2": {"field": "n2"}}}
 ]},
{"data": {"name": "spikes"}, "transform": [{"filter": "datum.p == 3"}], "width": 1162, "height": 113, "resolve": {"axis": {"y": "independent"}},
 "layer": [
  {"transform": [{"filter": "!isValid(datum.n2)"}], "mark": {"type": "tick", "orient": "vertical", "size": 3, "thickness": 1.2, "color": "black"},
   "encoding": {"x": {"field": "t", "type": "quantitative", "scale": {"domain": [0, 100], "nice": false}, "axis": {"labels": false, "title": null, "tickSize": -7, "tickWidth": 2, "values": [0, 20, 40, 60, 80, 100]}},
    "y": {"field": "n", "type": "quantitative", "scale": {"domain": [0, 54], "nice": false}, "axis": {"values": [20, 47], "labelExpr": "datum.value < 40 ? 'E' : 'I'", "ticks": false, "title": null, "labelFontSize": 20, "labelPadding": 7}}}},
  {"transform": [{"filter": "isValid(datum.n2)"}], "mark": {"type": "rule", "color": "#cc0000", "strokeWidth": 1.3},
   "encoding": {"x": {"field": "t", "type": "quantitative"}, "y": {"field": "n", "type": "quantitative", "axis": {"orient": "right", "values": [27], "labelExpr": "['τ_GABA = 9 ms', 'E = 10.1 Hz']", "ticks": false, "title": null, "labelFontSize": 20.5, "labelLineHeight": 23, "labelAlign": "left", "labelBaseline": "middle", "labelOffset": -11.5, "labelPadding": 13, "labelLimit": 0, "labelOverlap": false, "labelBound": false}}, "y2": {"field": "n2"}}}
 ]},
{"data": {"name": "spikes"}, "transform": [{"filter": "datum.p == 4"}], "width": 1162, "height": 113, "resolve": {"axis": {"y": "independent"}},
 "layer": [
  {"transform": [{"filter": "!isValid(datum.n2)"}], "mark": {"type": "tick", "orient": "vertical", "size": 3, "thickness": 1.2, "color": "black"},
   "encoding": {"x": {"field": "t", "type": "quantitative", "scale": {"domain": [0, 100], "nice": false}, "axis": {"labels": false, "title": null, "tickSize": -7, "tickWidth": 2, "values": [0, 20, 40, 60, 80, 100]}},
    "y": {"field": "n", "type": "quantitative", "scale": {"domain": [0, 54], "nice": false}, "axis": {"values": [20, 47], "labelExpr": "datum.value < 40 ? 'E' : 'I'", "ticks": false, "title": null, "labelFontSize": 20, "labelPadding": 7}}}},
  {"transform": [{"filter": "isValid(datum.n2)"}], "mark": {"type": "rule", "color": "#cc0000", "strokeWidth": 1.3},
   "encoding": {"x": {"field": "t", "type": "quantitative"}, "y": {"field": "n", "type": "quantitative", "axis": {"orient": "right", "values": [27], "labelExpr": "['τ_GABA = 12 ms', 'E = 8.0 Hz']", "ticks": false, "title": null, "labelFontSize": 20.5, "labelLineHeight": 23, "labelAlign": "left", "labelBaseline": "middle", "labelOffset": -11.5, "labelPadding": 13, "labelLimit": 0, "labelOverlap": false, "labelBound": false}}, "y2": {"field": "n2"}}}
 ]},
{"data": {"name": "spikes"}, "transform": [{"filter": "datum.p == 5"}], "width": 1162, "height": 113, "resolve": {"axis": {"y": "independent"}},
 "layer": [
  {"transform": [{"filter": "!isValid(datum.n2)"}], "mark": {"type": "tick", "orient": "vertical", "size": 3, "thickness": 1.2, "color": "black"},
   "encoding": {"x": {"field": "t", "type": "quantitative", "scale": {"domain": [0, 100], "nice": false}, "axis": {"labels": false, "title": null, "tickSize": -7, "tickWidth": 2, "values": [0, 20, 40, 60, 80, 100]}},
    "y": {"field": "n", "type": "quantitative", "scale": {"domain": [0, 54], "nice": false}, "axis": {"values": [20, 47], "labelExpr": "datum.value < 40 ? 'E' : 'I'", "ticks": false, "title": null, "labelFontSize": 20, "labelPadding": 7}}}},
  {"transform": [{"filter": "isValid(datum.n2)"}], "mark": {"type": "rule", "color": "#cc0000", "strokeWidth": 1.3},
   "encoding": {"x": {"field": "t", "type": "quantitative"}, "y": {"field": "n", "type": "quantitative", "axis": {"orient": "right", "values": [27], "labelExpr": "['τ_GABA = 18 ms', 'E = 5.7 Hz']", "ticks": false, "title": null, "labelFontSize": 20.5, "labelLineHeight": 23, "labelAlign": "left", "labelBaseline": "middle", "labelOffset": -11.5, "labelPadding": 13, "labelLimit": 0, "labelOverlap": false, "labelBound": false}}, "y2": {"field": "n2"}}}
 ]},
{"data": {"name": "spikes"}, "transform": [{"filter": "datum.p == 6"}], "width": 1162, "height": 113, "resolve": {"axis": {"y": "independent"}},
 "layer": [
  {"transform": [{"filter": "!isValid(datum.n2)"}], "mark": {"type": "tick", "orient": "vertical", "size": 3, "thickness": 1.2, "color": "black"},
   "encoding": {"x": {"field": "t", "type": "quantitative", "scale": {"domain": [0, 100], "nice": false}, "axis": {"labels": true, "title": "time (ms)", "titleFontSize": 20.5, "labelFontSize": 18.5, "labelPadding": 13, "titlePadding": 9, "tickSize": -7, "tickWidth": 2, "values": [0, 20, 40, 60, 80, 100], "labelFlush": false}},
    "y": {"field": "n", "type": "quantitative", "scale": {"domain": [0, 54], "nice": false}, "axis": {"values": [20, 47], "labelExpr": "datum.value < 40 ? 'E' : 'I'", "ticks": false, "title": null, "labelFontSize": 20, "labelPadding": 7}}}},
  {"transform": [{"filter": "isValid(datum.n2)"}], "mark": {"type": "rule", "color": "#cc0000", "strokeWidth": 1.3},
   "encoding": {"x": {"field": "t", "type": "quantitative"}, "y": {"field": "n", "type": "quantitative", "axis": {"orient": "right", "values": [27], "labelExpr": "['τ_GABA = 27 ms', 'E = 4.6 Hz']", "ticks": false, "title": null, "labelFontSize": 20.5, "labelLineHeight": 23, "labelAlign": "left", "labelBaseline": "middle", "labelOffset": -11.5, "labelPadding": 13, "labelLimit": 0, "labelOverlap": false, "labelBound": false}}, "y2": {"field": "n2"}}}
 ]},
{"data": {"values": [{}]}, "width": 1304, "height": 16, "view": {"stroke": null},
 "title": {"text": "r009", "orient": "bottom", "anchor": "end", "fontSize": 16, "color": "#888888", "offset": 0},
 "mark": {"type": "point", "opacity": 0}, "encoding": {}}
]
}
